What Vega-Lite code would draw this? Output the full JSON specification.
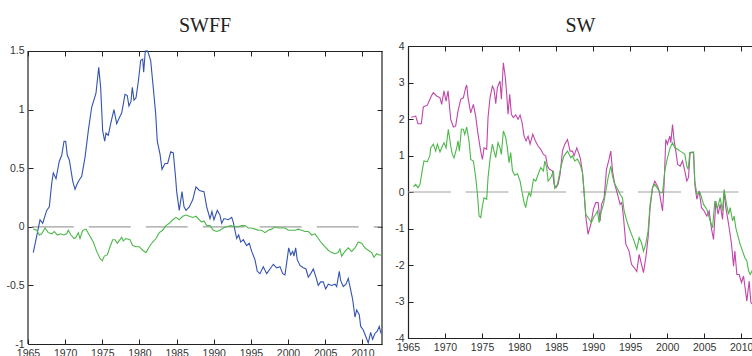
{
"$schema":"https://vega.github.io/schema/vega-lite/v6.json",
"background":"white",
"padding":{"left":5,"top":15,"right":0,"bottom":0},
"spacing":10,
"config":{"view":{"stroke":null},
"axis":{"domainColor":"#222","domainWidth":1.2,"tickColor":"#222","tickSize":-5,"tickWidth":1,"labelFont":"Liberation Sans","labelFontSize":10.5,"labelColor":"#333","labelPadding":9,"grid":false},
"title":{"font":"Liberation Serif","fontSize":20,"fontWeight":"normal","color":"#222","anchor":"middle","frame":"group"}},
"datasets":{
"swff":[
{"s":"b","t":1965.71,"v":-0.22},{"s":"b","t":1966.62,"v":0.06},{"s":"b","t":1966.98,"v":0.03},{"s":"b","t":1967.52,"v":0.14},{"s":"b","t":1967.87,"v":0.17},{"s":"b","t":1968.19,"v":0.37},{"s":"b","t":1968.41,"v":0.46},{"s":"b","t":1968.77,"v":0.41},{"s":"b","t":1969.21,"v":0.56},{"s":"b","t":1969.54,"v":0.61},{"s":"b","t":1969.85,"v":0.73},{"s":"b","t":1970.07,"v":0.73},{"s":"b","t":1970.29,"v":0.61},{"s":"b","t":1970.56,"v":0.57},{"s":"b","t":1971.02,"v":0.39},{"s":"b","t":1971.33,"v":0.32},{"s":"b","t":1971.64,"v":0.37},{"s":"b","t":1971.9,"v":0.40},{"s":"b","t":1972.23,"v":0.43},{"s":"b","t":1972.67,"v":0.59},{"s":"b","t":1973.12,"v":0.82},{"s":"b","t":1973.57,"v":1.02},{"s":"b","t":1974.15,"v":1.14},{"s":"b","t":1974.52,"v":1.36},{"s":"b","t":1974.78,"v":1.19},{"s":"b","t":1975.05,"v":0.82},{"s":"b","t":1975.32,"v":0.73},{"s":"b","t":1975.5,"v":0.80},{"s":"b","t":1975.81,"v":0.78},{"s":"b","t":1976.13,"v":0.88},{"s":"b","t":1976.57,"v":1.00},{"s":"b","t":1976.94,"v":0.88},{"s":"b","t":1977.29,"v":0.93},{"s":"b","t":1977.61,"v":0.97},{"s":"b","t":1978.06,"v":1.13},{"s":"b","t":1978.36,"v":1.12},{"s":"b","t":1978.59,"v":1.03},{"s":"b","t":1978.86,"v":1.07},{"s":"b","t":1979.04,"v":1.19},{"s":"b","t":1979.27,"v":1.08},{"s":"b","t":1979.54,"v":1.10},{"s":"b","t":1979.85,"v":1.24},{"s":"b","t":1980.17,"v":1.42},{"s":"b","t":1980.44,"v":1.43},{"s":"b","t":1980.57,"v":1.32},{"s":"b","t":1980.79,"v":1.50},{"s":"b","t":1981.11,"v":1.50},{"s":"b","t":1981.51,"v":1.42},{"s":"b","t":1981.86,"v":1.19},{"s":"b","t":1982.19,"v":0.96},{"s":"b","t":1982.4,"v":0.73},{"s":"b","t":1982.77,"v":0.62},{"s":"b","t":1983.04,"v":0.49},{"s":"b","t":1983.44,"v":0.54},{"s":"b","t":1983.8,"v":0.54},{"s":"b","t":1984.21,"v":0.64},{"s":"b","t":1984.56,"v":0.63},{"s":"b","t":1984.88,"v":0.41},{"s":"b","t":1985.01,"v":0.30},{"s":"b","t":1985.36,"v":0.14},{"s":"b","t":1985.73,"v":0.30},{"s":"b","t":1986.0,"v":0.17},{"s":"b","t":1986.27,"v":0.14},{"s":"b","t":1986.71,"v":0.17},{"s":"b","t":1987.17,"v":0.23},{"s":"b","t":1987.61,"v":0.34},{"s":"b","t":1988.06,"v":0.31},{"s":"b","t":1988.69,"v":0.30},{"s":"b","t":1989.05,"v":0.17},{"s":"b","t":1989.5,"v":0.07},{"s":"b","t":1989.76,"v":0.13},{"s":"b","t":1990.03,"v":0.06},{"s":"b","t":1990.48,"v":0.14},{"s":"b","t":1990.84,"v":0.10},{"s":"b","t":1991.07,"v":0.03},{"s":"b","t":1991.38,"v":0.07},{"s":"b","t":1991.96,"v":0.06},{"s":"b","t":1992.42,"v":0.08},{"s":"b","t":1992.63,"v":0.04},{"s":"b","t":1993.09,"v":-0.10},{"s":"b","t":1993.36,"v":-0.07},{"s":"b","t":1993.63,"v":-0.13},{"s":"b","t":1993.98,"v":-0.11},{"s":"b","t":1994.43,"v":-0.16},{"s":"b","t":1994.78,"v":-0.14},{"s":"b","t":1995.11,"v":-0.21},{"s":"b","t":1995.55,"v":-0.28},{"s":"b","t":1995.86,"v":-0.38},{"s":"b","t":1996.22,"v":-0.40},{"s":"b","t":1996.67,"v":-0.34},{"s":"b","t":1997.13,"v":-0.40},{"s":"b","t":1997.57,"v":-0.36},{"s":"b","t":1998.02,"v":-0.32},{"s":"b","t":1998.47,"v":-0.35},{"s":"b","t":1998.92,"v":-0.34},{"s":"b","t":1999.28,"v":-0.40},{"s":"b","t":1999.59,"v":-0.41},{"s":"b","t":1999.9,"v":-0.27},{"s":"b","t":2000.09,"v":-0.18},{"s":"b","t":2000.36,"v":-0.24},{"s":"b","t":2000.63,"v":-0.21},{"s":"b","t":2000.8,"v":-0.25},{"s":"b","t":2001.03,"v":-0.18},{"s":"b","t":2001.24,"v":-0.28},{"s":"b","t":2001.61,"v":-0.33},{"s":"b","t":2002.05,"v":-0.35},{"s":"b","t":2002.42,"v":-0.36},{"s":"b","t":2002.73,"v":-0.43},{"s":"b","t":2003.05,"v":-0.40},{"s":"b","t":2003.4,"v":-0.36},{"s":"b","t":2003.76,"v":-0.43},{"s":"b","t":2004.07,"v":-0.50},{"s":"b","t":2004.39,"v":-0.47},{"s":"b","t":2004.74,"v":-0.47},{"s":"b","t":2005.07,"v":-0.53},{"s":"b","t":2005.42,"v":-0.49},{"s":"b","t":2005.87,"v":-0.50},{"s":"b","t":2006.32,"v":-0.49},{"s":"b","t":2006.55,"v":-0.51},{"s":"b","t":2006.9,"v":-0.38},{"s":"b","t":2007.09,"v":-0.46},{"s":"b","t":2007.44,"v":-0.51},{"s":"b","t":2007.8,"v":-0.49},{"s":"b","t":2008.11,"v":-0.44},{"s":"b","t":2008.34,"v":-0.51},{"s":"b","t":2008.7,"v":-0.62},{"s":"b","t":2009.01,"v":-0.77},{"s":"b","t":2009.24,"v":-0.71},{"s":"b","t":2009.59,"v":-0.75},{"s":"b","t":2009.78,"v":-0.85},{"s":"b","t":2010.13,"v":-0.88},{"s":"b","t":2010.49,"v":-0.94},{"s":"b","t":2010.8,"v":-0.99},{"s":"b","t":2011.12,"v":-0.90},{"s":"b","t":2011.39,"v":-0.96},{"s":"b","t":2011.7,"v":-0.91},{"s":"b","t":2012.01,"v":-0.89},{"s":"b","t":2012.28,"v":-0.85},{"s":"b","t":2012.51,"v":-0.91},
{"s":"g","t":1965.71,"v":-0.02},{"s":"g","t":1966.17,"v":-0.03},{"s":"g","t":1966.52,"v":-0.07},{"s":"g","t":1966.84,"v":-0.06},{"s":"g","t":1967.29,"v":-0.01},{"s":"g","t":1967.73,"v":-0.05},{"s":"g","t":1968.19,"v":-0.06},{"s":"g","t":1968.54,"v":-0.04},{"s":"g","t":1968.94,"v":-0.07},{"s":"g","t":1969.4,"v":-0.06},{"s":"g","t":1969.85,"v":-0.07},{"s":"g","t":1970.21,"v":-0.06},{"s":"g","t":1970.42,"v":-0.03},{"s":"g","t":1970.79,"v":-0.07},{"s":"g","t":1971.19,"v":-0.10},{"s":"g","t":1971.46,"v":-0.09},{"s":"g","t":1971.77,"v":-0.05},{"s":"g","t":1972.0,"v":-0.10},{"s":"g","t":1972.36,"v":-0.03},{"s":"g","t":1972.81,"v":-0.02},{"s":"g","t":1973.25,"v":-0.07},{"s":"g","t":1973.79,"v":-0.13},{"s":"g","t":1974.25,"v":-0.21},{"s":"g","t":1974.69,"v":-0.27},{"s":"g","t":1975.0,"v":-0.29},{"s":"g","t":1975.27,"v":-0.25},{"s":"g","t":1975.67,"v":-0.24},{"s":"g","t":1976.04,"v":-0.17},{"s":"g","t":1976.4,"v":-0.11},{"s":"g","t":1976.71,"v":-0.11},{"s":"g","t":1977.02,"v":-0.14},{"s":"g","t":1977.38,"v":-0.11},{"s":"g","t":1977.61,"v":-0.09},{"s":"g","t":1977.83,"v":-0.12},{"s":"g","t":1978.19,"v":-0.10},{"s":"g","t":1978.73,"v":-0.11},{"s":"g","t":1979.09,"v":-0.16},{"s":"g","t":1979.54,"v":-0.17},{"s":"g","t":1979.98,"v":-0.17},{"s":"g","t":1980.44,"v":-0.20},{"s":"g","t":1980.88,"v":-0.22},{"s":"g","t":1981.33,"v":-0.17},{"s":"g","t":1981.78,"v":-0.13},{"s":"g","t":1982.23,"v":-0.10},{"s":"g","t":1982.67,"v":-0.05},{"s":"g","t":1983.13,"v":-0.03},{"s":"g","t":1983.57,"v":0.01},{"s":"g","t":1984.02,"v":0.03},{"s":"g","t":1984.48,"v":0.06},{"s":"g","t":1984.92,"v":0.08},{"s":"g","t":1985.36,"v":0.06},{"s":"g","t":1985.82,"v":0.09},{"s":"g","t":1986.27,"v":0.10},{"s":"g","t":1986.71,"v":0.09},{"s":"g","t":1987.17,"v":0.08},{"s":"g","t":1987.61,"v":0.09},{"s":"g","t":1988.06,"v":0.06},{"s":"g","t":1988.38,"v":0.04},{"s":"g","t":1988.69,"v":0.05},{"s":"g","t":1989.05,"v":0.01},{"s":"g","t":1989.5,"v":0.01},{"s":"g","t":1989.94,"v":-0.03},{"s":"g","t":1990.4,"v":-0.04},{"s":"g","t":1990.84,"v":-0.03},{"s":"g","t":1991.29,"v":-0.01},{"s":"g","t":1991.74,"v":0.00},{"s":"g","t":1992.28,"v":0.01},{"s":"g","t":1992.86,"v":0.00},{"s":"g","t":1993.3,"v":0.00},{"s":"g","t":1993.76,"v":0.01},{"s":"g","t":1994.21,"v":0.01},{"s":"g","t":1994.65,"v":-0.01},{"s":"g","t":1995.11,"v":-0.01},{"s":"g","t":1995.55,"v":-0.02},{"s":"g","t":1996.0,"v":-0.03},{"s":"g","t":1996.45,"v":-0.03},{"s":"g","t":1996.9,"v":-0.05},{"s":"g","t":1997.34,"v":-0.03},{"s":"g","t":1997.8,"v":-0.02},{"s":"g","t":1998.24,"v":0.00},{"s":"g","t":1998.69,"v":-0.01},{"s":"g","t":1999.15,"v":-0.01},{"s":"g","t":1999.59,"v":-0.01},{"s":"g","t":2000.03,"v":-0.03},{"s":"g","t":2000.49,"v":-0.03},{"s":"g","t":2000.94,"v":-0.03},{"s":"g","t":2001.38,"v":-0.02},{"s":"g","t":2001.84,"v":-0.03},{"s":"g","t":2002.28,"v":-0.04},{"s":"g","t":2002.73,"v":-0.04},{"s":"g","t":2003.18,"v":-0.07},{"s":"g","t":2003.63,"v":-0.06},{"s":"g","t":2004.07,"v":-0.10},{"s":"g","t":2004.53,"v":-0.14},{"s":"g","t":2004.97,"v":-0.17},{"s":"g","t":2005.42,"v":-0.20},{"s":"g","t":2005.87,"v":-0.22},{"s":"g","t":2006.32,"v":-0.23},{"s":"g","t":2006.76,"v":-0.22},{"s":"g","t":2006.99,"v":-0.19},{"s":"g","t":2007.22,"v":-0.25},{"s":"g","t":2007.66,"v":-0.21},{"s":"g","t":2008.11,"v":-0.18},{"s":"g","t":2008.57,"v":-0.21},{"s":"g","t":2009.01,"v":-0.18},{"s":"g","t":2009.45,"v":-0.13},{"s":"g","t":2009.91,"v":-0.14},{"s":"g","t":2010.36,"v":-0.18},{"s":"g","t":2010.8,"v":-0.20},{"s":"g","t":2011.26,"v":-0.22},{"s":"g","t":2011.57,"v":-0.26},{"s":"g","t":2011.93,"v":-0.23},{"s":"g","t":2012.28,"v":-0.24},{"s":"g","t":2012.6,"v":-0.24}
],
"sw":[
{"s":"m","t":1965.45,"v":2.05},{"s":"m","t":1966.04,"v":2.08},{"s":"m","t":1966.35,"v":1.87},{"s":"m","t":1966.8,"v":1.87},{"s":"m","t":1967.07,"v":2.33},{"s":"m","t":1967.61,"v":2.38},{"s":"m","t":1968.15,"v":2.63},{"s":"m","t":1968.42,"v":2.72},{"s":"m","t":1968.87,"v":2.63},{"s":"m","t":1969.32,"v":2.58},{"s":"m","t":1969.55,"v":2.40},{"s":"m","t":1969.86,"v":2.77},{"s":"m","t":1970.14,"v":2.49},{"s":"m","t":1970.41,"v":2.77},{"s":"m","t":1970.77,"v":1.99},{"s":"m","t":1971.13,"v":1.78},{"s":"m","t":1971.44,"v":1.81},{"s":"m","t":1971.76,"v":2.22},{"s":"m","t":1972.12,"v":2.54},{"s":"m","t":1972.48,"v":2.58},{"s":"m","t":1972.79,"v":2.86},{"s":"m","t":1972.93,"v":2.93},{"s":"m","t":1973.11,"v":2.58},{"s":"m","t":1973.47,"v":2.17},{"s":"m","t":1973.83,"v":2.40},{"s":"m","t":1974.14,"v":2.08},{"s":"m","t":1974.46,"v":1.58},{"s":"m","t":1974.82,"v":1.12},{"s":"m","t":1975.05,"v":0.89},{"s":"m","t":1975.27,"v":1.21},{"s":"m","t":1975.63,"v":1.17},{"s":"m","t":1975.81,"v":2.04},{"s":"m","t":1976.08,"v":2.58},{"s":"m","t":1976.4,"v":2.90},{"s":"m","t":1976.62,"v":2.81},{"s":"m","t":1976.85,"v":2.42},{"s":"m","t":1977.07,"v":2.86},{"s":"m","t":1977.43,"v":3.04},{"s":"m","t":1977.61,"v":2.54},{"s":"m","t":1977.88,"v":3.54},{"s":"m","t":1978.15,"v":3.13},{"s":"m","t":1978.33,"v":2.68},{"s":"m","t":1978.51,"v":2.13},{"s":"m","t":1978.74,"v":2.68},{"s":"m","t":1978.96,"v":2.13},{"s":"m","t":1979.23,"v":2.04},{"s":"m","t":1979.55,"v":2.11},{"s":"m","t":1979.86,"v":1.99},{"s":"m","t":1980.14,"v":2.11},{"s":"m","t":1980.41,"v":1.90},{"s":"m","t":1980.68,"v":1.53},{"s":"m","t":1980.95,"v":1.40},{"s":"m","t":1981.22,"v":1.53},{"s":"m","t":1981.49,"v":1.31},{"s":"m","t":1981.85,"v":1.58},{"s":"m","t":1982.21,"v":1.40},{"s":"m","t":1982.57,"v":1.26},{"s":"m","t":1982.93,"v":1.17},{"s":"m","t":1983.29,"v":1.03},{"s":"m","t":1983.6,"v":0.99},{"s":"m","t":1983.84,"v":0.71},{"s":"m","t":1984.1,"v":0.62},{"s":"m","t":1984.51,"v":0.58},{"s":"m","t":1984.73,"v":0.21},{"s":"m","t":1985.0,"v":0.12},{"s":"m","t":1985.27,"v":0.21},{"s":"m","t":1985.54,"v":0.48},{"s":"m","t":1985.86,"v":1.12},{"s":"m","t":1986.18,"v":1.31},{"s":"m","t":1986.54,"v":1.44},{"s":"m","t":1986.89,"v":1.12},{"s":"m","t":1987.22,"v":1.12},{"s":"m","t":1987.43,"v":0.99},{"s":"m","t":1987.8,"v":1.21},{"s":"m","t":1988.11,"v":1.03},{"s":"m","t":1988.3,"v":0.90},{"s":"m","t":1988.57,"v":0.53},{"s":"m","t":1988.78,"v":-0.02},{"s":"m","t":1989.01,"v":-0.66},{"s":"m","t":1989.32,"v":-1.16},{"s":"m","t":1989.69,"v":-0.89},{"s":"m","t":1990.05,"v":-0.47},{"s":"m","t":1990.36,"v":-0.29},{"s":"m","t":1990.68,"v":-0.29},{"s":"m","t":1990.95,"v":-0.79},{"s":"m","t":1991.14,"v":-0.34},{"s":"m","t":1991.49,"v":-0.16},{"s":"m","t":1991.81,"v":0.62},{"s":"m","t":1992.16,"v":0.90},{"s":"m","t":1992.39,"v":1.12},{"s":"m","t":1992.62,"v":0.58},{"s":"m","t":1992.93,"v":0.21},{"s":"m","t":1993.3,"v":-0.06},{"s":"m","t":1993.65,"v":-0.34},{"s":"m","t":1993.88,"v":-0.29},{"s":"m","t":1994.11,"v":-0.70},{"s":"m","t":1994.42,"v":-1.43},{"s":"m","t":1994.86,"v":-1.62},{"s":"m","t":1995.19,"v":-1.98},{"s":"m","t":1995.54,"v":-2.07},{"s":"m","t":1995.9,"v":-2.18},{"s":"m","t":1996.22,"v":-1.71},{"s":"m","t":1996.54,"v":-1.98},{"s":"m","t":1996.81,"v":-2.21},{"s":"m","t":1997.12,"v":-1.80},{"s":"m","t":1997.43,"v":-1.25},{"s":"m","t":1997.7,"v":-0.43},{"s":"m","t":1998.03,"v":0.12},{"s":"m","t":1998.34,"v":0.30},{"s":"m","t":1998.7,"v":0.16},{"s":"m","t":1998.92,"v":0.03},{"s":"m","t":1999.38,"v":-0.52},{"s":"m","t":1999.59,"v":0.21},{"s":"m","t":1999.82,"v":1.44},{"s":"m","t":2000.05,"v":1.31},{"s":"m","t":2000.36,"v":1.53},{"s":"m","t":2000.5,"v":1.35},{"s":"m","t":2000.73,"v":1.85},{"s":"m","t":2000.95,"v":1.40},{"s":"m","t":2001.18,"v":1.12},{"s":"m","t":2001.41,"v":0.76},{"s":"m","t":2001.76,"v":0.71},{"s":"m","t":2002.08,"v":0.85},{"s":"m","t":2002.39,"v":0.58},{"s":"m","t":2002.66,"v":0.30},{"s":"m","t":2002.89,"v":0.40},{"s":"m","t":2003.11,"v":1.08},{"s":"m","t":2003.57,"v":1.08},{"s":"m","t":2003.74,"v":0.21},{"s":"m","t":2004.01,"v":-0.20},{"s":"m","t":2004.32,"v":0.03},{"s":"m","t":2004.65,"v":-0.43},{"s":"m","t":2005.0,"v":-0.52},{"s":"m","t":2005.36,"v":-0.66},{"s":"m","t":2005.68,"v":-0.52},{"s":"m","t":2006.0,"v":-1.02},{"s":"m","t":2006.27,"v":-1.30},{"s":"m","t":2006.58,"v":-0.25},{"s":"m","t":2006.89,"v":-0.61},{"s":"m","t":2007.16,"v":-0.34},{"s":"m","t":2007.49,"v":-0.75},{"s":"m","t":2007.7,"v":0.03},{"s":"m","t":2007.93,"v":-0.43},{"s":"m","t":2008.16,"v":-0.70},{"s":"m","t":2008.38,"v":-0.98},{"s":"m","t":2008.7,"v":-1.43},{"s":"m","t":2008.97,"v":-2.03},{"s":"m","t":2009.15,"v":-1.62},{"s":"m","t":2009.42,"v":-2.26},{"s":"m","t":2009.73,"v":-2.26},{"s":"m","t":2010.05,"v":-2.48},{"s":"m","t":2010.32,"v":-2.30},{"s":"m","t":2010.5,"v":-2.58},{"s":"m","t":2010.77,"v":-2.99},{"s":"m","t":2011.08,"v":-2.44},{"s":"m","t":2011.31,"v":-3.03},{"s":"m","t":2011.58,"v":-3.08},
{"s":"g","t":1965.73,"v":0.14},{"s":"g","t":1966.04,"v":0.21},{"s":"g","t":1966.35,"v":0.12},{"s":"g","t":1966.62,"v":0.21},{"s":"g","t":1966.95,"v":0.62},{"s":"g","t":1967.16,"v":0.85},{"s":"g","t":1967.62,"v":0.83},{"s":"g","t":1967.97,"v":1.01},{"s":"g","t":1968.06,"v":1.21},{"s":"g","t":1968.42,"v":1.31},{"s":"g","t":1968.74,"v":1.12},{"s":"g","t":1968.96,"v":1.31},{"s":"g","t":1969.32,"v":1.10},{"s":"g","t":1969.64,"v":1.26},{"s":"g","t":1969.86,"v":1.35},{"s":"g","t":1970.14,"v":1.21},{"s":"g","t":1970.45,"v":1.72},{"s":"g","t":1970.77,"v":1.26},{"s":"g","t":1970.99,"v":1.03},{"s":"g","t":1971.22,"v":0.94},{"s":"g","t":1971.58,"v":1.21},{"s":"g","t":1971.76,"v":1.40},{"s":"g","t":1971.94,"v":1.12},{"s":"g","t":1972.21,"v":1.72},{"s":"g","t":1972.48,"v":1.72},{"s":"g","t":1972.66,"v":1.58},{"s":"g","t":1972.93,"v":1.78},{"s":"g","t":1973.24,"v":1.40},{"s":"g","t":1973.47,"v":0.89},{"s":"g","t":1973.83,"v":0.85},{"s":"g","t":1974.15,"v":0.39},{"s":"g","t":1974.38,"v":-0.06},{"s":"g","t":1974.6,"v":-0.66},{"s":"g","t":1974.82,"v":-0.70},{"s":"g","t":1975.05,"v":-0.38},{"s":"g","t":1975.27,"v":-0.16},{"s":"g","t":1975.63,"v":-0.20},{"s":"g","t":1975.81,"v":0.39},{"s":"g","t":1976.08,"v":0.90},{"s":"g","t":1976.4,"v":1.31},{"s":"g","t":1976.62,"v":1.12},{"s":"g","t":1976.85,"v":0.94},{"s":"g","t":1977.16,"v":1.35},{"s":"g","t":1977.43,"v":1.21},{"s":"g","t":1977.61,"v":1.03},{"s":"g","t":1977.88,"v":1.67},{"s":"g","t":1978.2,"v":1.49},{"s":"g","t":1978.42,"v":1.21},{"s":"g","t":1978.65,"v":0.80},{"s":"g","t":1978.87,"v":1.08},{"s":"g","t":1979.11,"v":0.58},{"s":"g","t":1979.42,"v":0.46},{"s":"g","t":1979.78,"v":0.50},{"s":"g","t":1980.14,"v":0.30},{"s":"g","t":1980.46,"v":-0.06},{"s":"g","t":1980.68,"v":-0.29},{"s":"g","t":1980.9,"v":-0.43},{"s":"g","t":1981.14,"v":-0.16},{"s":"g","t":1981.35,"v":-0.02},{"s":"g","t":1981.58,"v":-0.11},{"s":"g","t":1981.95,"v":0.35},{"s":"g","t":1982.26,"v":0.30},{"s":"g","t":1982.57,"v":0.48},{"s":"g","t":1982.93,"v":0.67},{"s":"g","t":1983.3,"v":0.58},{"s":"g","t":1983.47,"v":0.85},{"s":"g","t":1983.74,"v":0.67},{"s":"g","t":1983.92,"v":0.30},{"s":"g","t":1984.28,"v":0.39},{"s":"g","t":1984.65,"v":0.58},{"s":"g","t":1984.82,"v":0.10},{"s":"g","t":1985.19,"v":0.21},{"s":"g","t":1985.54,"v":0.58},{"s":"g","t":1985.86,"v":0.85},{"s":"g","t":1986.08,"v":0.99},{"s":"g","t":1986.54,"v":1.12},{"s":"g","t":1986.99,"v":0.94},{"s":"g","t":1987.2,"v":0.99},{"s":"g","t":1987.53,"v":0.85},{"s":"g","t":1987.89,"v":0.90},{"s":"g","t":1988.24,"v":0.76},{"s":"g","t":1988.57,"v":0.53},{"s":"g","t":1988.78,"v":0.03},{"s":"g","t":1989.01,"v":-0.61},{"s":"g","t":1989.32,"v":-0.70},{"s":"g","t":1989.78,"v":-0.84},{"s":"g","t":1990.05,"v":-0.70},{"s":"g","t":1990.36,"v":-0.61},{"s":"g","t":1990.59,"v":-0.52},{"s":"g","t":1990.81,"v":-0.84},{"s":"g","t":1991.04,"v":-0.57},{"s":"g","t":1991.41,"v":-0.34},{"s":"g","t":1991.72,"v":0.03},{"s":"g","t":1992.03,"v":0.39},{"s":"g","t":1992.39,"v":0.71},{"s":"g","t":1992.62,"v":0.44},{"s":"g","t":1992.84,"v":0.26},{"s":"g","t":1993.2,"v":0.12},{"s":"g","t":1993.65,"v":-0.06},{"s":"g","t":1993.97,"v":-0.16},{"s":"g","t":1994.19,"v":-0.52},{"s":"g","t":1994.55,"v":-0.79},{"s":"g","t":1994.86,"v":-0.98},{"s":"g","t":1995.19,"v":-1.16},{"s":"g","t":1995.54,"v":-1.34},{"s":"g","t":1995.9,"v":-1.57},{"s":"g","t":1996.22,"v":-1.25},{"s":"g","t":1996.54,"v":-1.39},{"s":"g","t":1996.81,"v":-1.62},{"s":"g","t":1997.12,"v":-1.43},{"s":"g","t":1997.43,"v":-1.07},{"s":"g","t":1997.7,"v":-0.34},{"s":"g","t":1998.03,"v":0.12},{"s":"g","t":1998.34,"v":0.21},{"s":"g","t":1998.7,"v":0.10},{"s":"g","t":1999.05,"v":-0.02},{"s":"g","t":1999.38,"v":-0.02},{"s":"g","t":1999.69,"v":0.58},{"s":"g","t":2000.05,"v":0.94},{"s":"g","t":2000.41,"v":1.21},{"s":"g","t":2000.73,"v":1.35},{"s":"g","t":2001.04,"v":1.21},{"s":"g","t":2001.41,"v":1.17},{"s":"g","t":2001.76,"v":1.12},{"s":"g","t":2002.08,"v":1.08},{"s":"g","t":2002.39,"v":1.03},{"s":"g","t":2002.66,"v":0.71},{"s":"g","t":2002.84,"v":0.62},{"s":"g","t":2003.07,"v":1.08},{"s":"g","t":2003.57,"v":1.10},{"s":"g","t":2003.74,"v":0.30},{"s":"g","t":2004.01,"v":-0.06},{"s":"g","t":2004.46,"v":-0.02},{"s":"g","t":2004.92,"v":-0.34},{"s":"g","t":2005.36,"v":-0.47},{"s":"g","t":2005.81,"v":-0.79},{"s":"g","t":2006.14,"v":-0.98},{"s":"g","t":2006.45,"v":-0.25},{"s":"g","t":2006.81,"v":-0.43},{"s":"g","t":2007.16,"v":-0.16},{"s":"g","t":2007.49,"v":-0.52},{"s":"g","t":2007.7,"v":0.07},{"s":"g","t":2008.03,"v":-0.34},{"s":"g","t":2008.3,"v":-0.61},{"s":"g","t":2008.51,"v":-0.43},{"s":"g","t":2008.84,"v":-0.79},{"s":"g","t":2009.05,"v":-0.66},{"s":"g","t":2009.28,"v":-0.98},{"s":"g","t":2009.51,"v":-1.16},{"s":"g","t":2009.86,"v":-1.43},{"s":"g","t":2010.19,"v":-1.62},{"s":"g","t":2010.5,"v":-1.80},{"s":"g","t":2010.77,"v":-1.89},{"s":"g","t":2011.0,"v":-2.16},{"s":"g","t":2011.22,"v":-2.26},{"s":"g","t":2011.58,"v":-2.12}
]},
"hconcat":[
{"width":354,"height":298,
"title":{"text":"SWFF","offset":10},
"data":{"name":"swff"},
"layer":[
{"data":{"values":[{}]},
"mark":{"type":"rule","color":"#a0a0a0","strokeWidth":1.2,"strokeDash":[42,15]},
"encoding":{"x":{"datum":1965.5,"type":"quantitative","axis":null},"x2":{"datum":2012.65},"y":{"datum":0,"type":"quantitative","axis":null}}},
{"data":{"values":[{}]},
"mark":{"type":"rule","color":"#222","strokeWidth":1.2},
"encoding":{"x":{"datum":1965,"type":"quantitative","axis":null},"y":{"datum":-1,"type":"quantitative","axis":null},"y2":{"datum":1.5}}},
{"data":{"values":[{}]},
"mark":{"type":"rule","color":"#222","strokeWidth":1.2},
"encoding":{"x":{"datum":2012.65,"type":"quantitative","axis":null},"y":{"datum":-1,"type":"quantitative","axis":null},"y2":{"datum":1.5}}},
{"transform":[{"filter":"datum.s === 'b'"}],
"mark":{"type":"line","color":"#3453b0","strokeWidth":1.1},
"encoding":{
"x":{"field":"t","type":"quantitative","title":null,"scale":{"domain":[1965,2012.65],"nice":false,"zero":false},"axis":{"orient":"bottom","values":[1965,1970,1975,1980,1985,1990,1995,2000,2005,2010],"labelExpr":"datum.value + ''","labelFlush":false,"labelOverlap":false}},
"y":{"field":"v","type":"quantitative","title":null,"scale":{"domain":[-1,1.5426],"nice":false,"zero":false},"axis":{"orient":"left","domain":false,"values":[-1,-0.5,0,0.5,1,1.5],"labelExpr":"datum.value + ''","labelFlush":false,"labelOverlap":false}}}},
{"transform":[{"filter":"datum.s === 'g'"}],
"mark":{"type":"line","color":"#4cb849","strokeWidth":1.1},
"encoding":{
"x":{"field":"t","type":"quantitative","title":null,"axis":{"orient":"top","offset":-5,"values":[1965,1970,1975,1980,1985,1990,1995,2000,2005,2010],"labels":false}},
"y":{"field":"v","type":"quantitative","title":null,"axis":{"orient":"right","domain":false,"values":[-1,-0.5,0,0.5,1,1.5],"labels":false}}}}
],
"resolve":{"axis":{"x":"independent","y":"independent"}}},
{"width":345,"height":292,
"title":{"text":"SW","offset":5},
"data":{"name":"sw"},
"layer":[
{"data":{"values":[{}]},
"mark":{"type":"rule","color":"#a0a0a0","strokeWidth":1.2,"strokeDash":[43,14.5]},
"encoding":{"x":{"datum":1965,"type":"quantitative","axis":null},"x2":{"datum":2011.6},"y":{"datum":0,"type":"quantitative","axis":null}}},
{"transform":[{"filter":"datum.s === 'm'"}],
"mark":{"type":"line","color":"#c046aa","strokeWidth":1.1},
"encoding":{
"x":{"field":"t","type":"quantitative","title":null,"scale":{"domain":[1965,2011.6],"nice":false,"zero":false},"axis":{"orient":"bottom","values":[1965,1970,1975,1980,1985,1990,1995,2000,2005,2010],"labelExpr":"datum.value + ''","labelFlush":false,"labelOverlap":false}},
"y":{"field":"v","type":"quantitative","title":null,"scale":{"domain":[-4,4],"nice":false,"zero":false},"axis":{"orient":"left","values":[-4,-3,-2,-1,0,1,2,3,4],"labelExpr":"datum.value + ''","labelFlush":false,"labelOverlap":false}}}},
{"transform":[{"filter":"datum.s === 'g'"}],
"mark":{"type":"line","color":"#4cb849","strokeWidth":1.1},
"encoding":{
"x":{"field":"t","type":"quantitative","title":null,"axis":{"orient":"top","values":[1965,1970,1975,1980,1985,1990,1995,2000,2005,2010],"labels":false}},
"y":{"field":"v","type":"quantitative","title":null,"axis":null}}}
],
"resolve":{"axis":{"x":"independent","y":"independent"}}}
]
}
